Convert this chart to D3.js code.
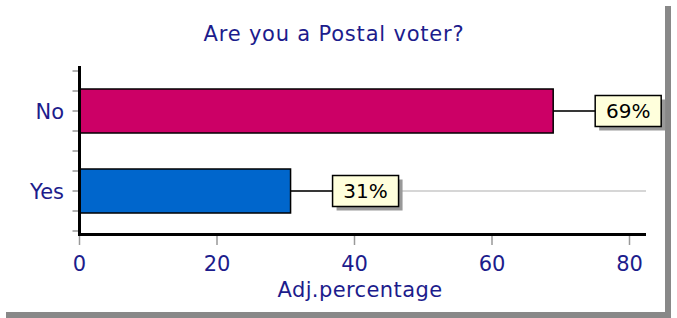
<!DOCTYPE html>
<html>
<head>
<meta charset="utf-8">
<script src="https://cdn.jsdelivr.net/npm/d3@7"></script>
<style>
  body { margin: 0; background: #fff; }
  text { font-family: "DejaVu Sans", Verdana, sans-serif; }
</style>
</head>
<body>
<div id="chart"></div>
<script>
// chart data
const categories = ["No", "Yes"];
const values = [68.9, 30.7];
const valueLabels = ["69%", "31%"];
const barColors = ["#cc0066", "#0066cc"];
const xTicks = [0, 20, 40, 60, 80];
const title = "Are you a Postal voter?";
const xTitle = "Adj.percentage";

const W = 677, H = 318;
const PLOT = { LEFT: 79.5, RIGHT: 629.5, TOP: 71, BOTTOM: 231 };
const NAVY = "#1c1c8c";

const svg = d3.select("#chart").append("svg")
    .attr("width", W)
    .attr("height", H);

// panel + drop shadow
svg.append("rect")
    .attr("x", 6).attr("y", 6)
    .attr("width", 665).attr("height", 312)
    .attr("fill", "#888");
svg.append("rect")
    .attr("x", 0).attr("y", 0)
    .attr("width", 665).attr("height", 312)
    .attr("fill", "#fff");

const x = d3.scaleLinear()
    .domain([0, 80])
    .range([PLOT.LEFT, PLOT.RIGHT]);

const y = d3.scaleBand()
    .domain(categories)
    .range([PLOT.TOP, PLOT.BOTTOM])
    .paddingInner(0.45)
    .paddingOuter(0.225);

const axisEnd = 646;

// title
svg.append("text")
    .attr("x", 334)
    .attr("y", 41)
    .attr("text-anchor", "middle")
    .attr("font-size", "21px")
    .attr("letter-spacing", "0.8px")
    .attr("fill", NAVY)
    .text(title);

// grey reference lines through each category
svg.append("g").selectAll("line")
    .data(categories)
    .join("line")
    .attr("x1", PLOT.LEFT).attr("x2", axisEnd)
    .attr("y1", d => y(d) + y.bandwidth() / 2)
    .attr("y2", d => y(d) + y.bandwidth() / 2)
    .attr("stroke", "#c8c8c8")
    .attr("stroke-width", 1.5);

// minor ticks on the y axis
const yMinor = d3.scaleLinear().domain([0, 8]).range([PLOT.TOP, PLOT.BOTTOM]);
svg.append("g").selectAll("line")
    .data(d3.range(9))
    .join("line")
    .attr("x1", PLOT.LEFT - 7).attr("x2", PLOT.LEFT)
    .attr("y1", d => yMinor(d)).attr("y2", d => yMinor(d))
    .attr("stroke", "#999")
    .attr("stroke-width", 1.5);

// x ticks
svg.append("g").selectAll("line")
    .data(xTicks)
    .join("line")
    .attr("x1", d => x(d)).attr("x2", d => x(d))
    .attr("y1", 236).attr("y2", 245)
    .attr("stroke", "#999")
    .attr("stroke-width", 1.5);

svg.append("g").selectAll("text")
    .data(xTicks)
    .join("text")
    .attr("x", d => x(d))
    .attr("y", 271)
    .attr("text-anchor", "middle")
    .attr("font-size", "21px")
    .attr("fill", NAVY)
    .text(d => d);

// category labels
svg.append("g").selectAll("text")
    .data(categories)
    .join("text")
    .attr("x", 64)
    .attr("y", d => y(d) + y.bandwidth() / 2)
    .attr("dy", "0.36em")
    .attr("text-anchor", "end")
    .attr("font-size", "21px")
    .attr("fill", NAVY)
    .text(d => d);

// x axis title
svg.append("text")
    .attr("x", 360)
    .attr("y", 297)
    .attr("text-anchor", "middle")
    .attr("font-size", "21px")
    .attr("letter-spacing", "0.4px")
    .attr("fill", NAVY)
    .text(xTitle);

// bars
svg.append("g").selectAll("rect")
    .data(categories)
    .join("rect")
    .attr("x", x(0))
    .attr("y", d => y(d))
    .attr("width", (d, i) => x(values[i]) - x(0))
    .attr("height", y.bandwidth())
    .attr("fill", (d, i) => barColors[i])
    .attr("stroke", "#000")
    .attr("stroke-width", 1.5);

// value labels with leader line
const BOX_W = 66, BOX_H = 31, GAP = 42;
const lab = svg.append("g").selectAll("g")
    .data(categories)
    .join("g")
    .attr("transform", (d, i) => `translate(${x(values[i])}, ${y(d) + y.bandwidth() / 2})`);

lab.append("line")
    .attr("x1", 0).attr("x2", GAP)
    .attr("y1", 0).attr("y2", 0)
    .attr("stroke", "#000")
    .attr("stroke-width", 1.5);
lab.append("rect")
    .attr("x", GAP + 4).attr("y", -BOX_H / 2 + 4)
    .attr("width", BOX_W).attr("height", BOX_H)
    .attr("fill", "#999");
lab.append("rect")
    .attr("x", GAP).attr("y", -BOX_H / 2)
    .attr("width", BOX_W).attr("height", BOX_H)
    .attr("fill", "#ffffdc")
    .attr("stroke", "#000")
    .attr("stroke-width", 1.5);
lab.append("text")
    .attr("x", GAP + BOX_W / 2)
    .attr("y", 0)
    .attr("dy", "0.36em")
    .attr("text-anchor", "middle")
    .attr("font-size", "20px")
    .attr("fill", "#000")
    .text((d, i) => valueLabels[i]);

// axis lines
svg.append("line")
    .attr("x1", PLOT.LEFT).attr("x2", PLOT.LEFT)
    .attr("y1", 66).attr("y2", 235)
    .attr("stroke", "#000")
    .attr("stroke-width", 3);
svg.append("line")
    .attr("x1", PLOT.LEFT - 1.5).attr("x2", axisEnd)
    .attr("y1", 234.5).attr("y2", 234.5)
    .attr("stroke", "#000")
    .attr("stroke-width", 3);
</script>
</body>
</html>
